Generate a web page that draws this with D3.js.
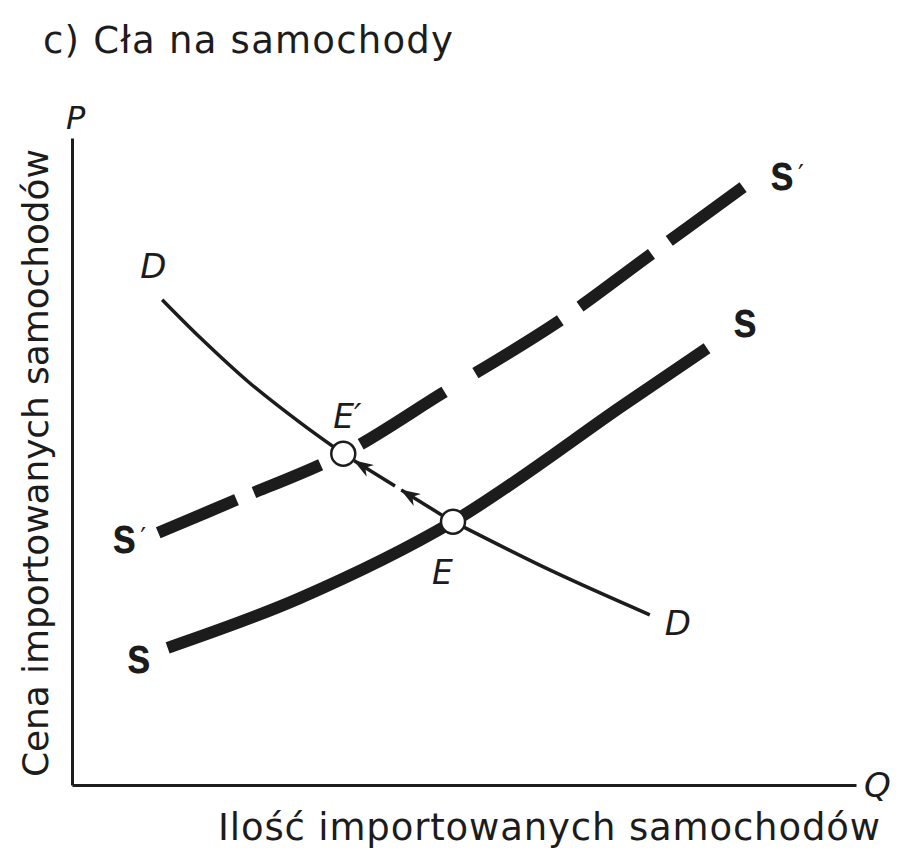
<!DOCTYPE html>
<html>
<head>
<meta charset="utf-8">
<script src="https://cdn.jsdelivr.net/npm/d3@7"></script>
<style>
  body { margin: 0; background: #fff; }
  svg { display: block; }
  .lbl { font-family: "DejaVu Sans", sans-serif; fill: #1c1c1c; }
  .ital { font-style: italic; }
  .curveLbl { font-family: "Liberation Sans", sans-serif; font-weight: bold; fill: #1c1c1c; }
</style>
</head>
<body>
<div id="chart"></div>
<script>
// curves, as [Q, P] on a 0..10 scale
var demand = [[1.15, 7.50], [1.63, 6.92], [2.27, 6.21], [2.91, 5.60], [3.46, 5.12], [4.86, 4.07], [6.10, 3.32], [7.37, 2.63]];
var supply = [[1.22, 2.12], [2.91, 2.89], [4.86, 4.07], [7.03, 5.87], [8.10, 6.75]];
var supplyTariff = [[1.10, 3.90], [2.08, 4.40], [3.46, 5.12], [4.73, 6.06], [6.20, 7.16], [7.37, 8.19], [8.56, 9.24]];

// equilibria
var eqNames = ["E′", "E"];
var eqPoints = [[3.46, 5.12], [4.86, 4.07]];

// the move along D from E to E'
var moveArrows = [
    [[4.72, 4.17], [4.20, 4.56]],
    [[4.12, 4.62], [3.60, 5.01]]
];

var title = "c) Cła na samochody";
var yTitle = "Cena importowanych samochodów";
var xTitle = "Ilość importowanych samochodów";

var width = 901, height = 866;

var svg = d3.select("#chart").append("svg")
    .attr("width", width)
    .attr("height", height);

var x = d3.scaleLinear().domain([0, 10]).range([72, 856]);
var y = d3.scaleLinear().domain([0, 10]).range([785, 138]);

var ink = "#1c1c1c";

// arrow head
svg.append("defs").append("marker")
    .attr("id", "head")
    .attr("viewBox", "0 0 20 14")
    .attr("refX", 19)
    .attr("refY", 7)
    .attr("markerWidth", 20)
    .attr("markerHeight", 14)
    .attr("markerUnits", "userSpaceOnUse")
    .attr("orient", "auto")
    .append("path")
    .attr("d", "M20,7 L0,0 L6,7 L0,14 Z")
    .attr("fill", ink);

// axes without ticks
svg.append("g")
    .attr("transform", "translate(0," + y(0) + ")")
    .call(d3.axisBottom(x).ticks(0).tickSizeOuter(0))
    .select(".domain").attr("stroke", ink).attr("stroke-width", 3);

svg.append("g")
    .attr("transform", "translate(" + x(0) + ",0)")
    .call(d3.axisLeft(y).ticks(0).tickSizeOuter(0))
    .select(".domain").attr("stroke", ink).attr("stroke-width", 3);

var line = d3.line()
    .x(function(d) { return x(d[0]); })
    .y(function(d) { return y(d[1]); })
    .curve(d3.curveCatmullRom.alpha(0.5));

// D, but not between E and E' (the arrows go there)
var dUpper = demand.filter(function(d) { return d[0] <= eqPoints[0][0]; });
var dLower = demand.filter(function(d) { return d[0] >= eqPoints[1][0]; });

[dUpper, dLower].forEach(function(part) {
    svg.append("path")
        .attr("d", line(part))
        .attr("fill", "none")
        .attr("stroke", ink)
        .attr("stroke-width", 3.5);
});

svg.append("path")
    .attr("d", line(supply))
    .attr("fill", "none")
    .attr("stroke", ink)
    .attr("stroke-width", 12);

svg.append("path")
    .attr("d", line(supplyTariff))
    .attr("fill", "none")
    .attr("stroke", ink)
    .attr("stroke-width", 12)
    .attr("stroke-dasharray", "85 19 72 45 99 36 100 24 89 22 94");

svg.selectAll(".move")
    .data(moveArrows)
    .enter().append("line")
    .attr("class", "move")
    .attr("x1", function(d) { return x(d[0][0]); })
    .attr("y1", function(d) { return y(d[0][1]); })
    .attr("x2", function(d) { return x(d[1][0]); })
    .attr("y2", function(d) { return y(d[1][1]); })
    .attr("stroke", ink)
    .attr("stroke-width", 3.5)
    .attr("marker-end", "url(#head)");

svg.selectAll(".eq")
    .data(eqPoints)
    .enter().append("circle")
    .attr("class", "eq")
    .attr("cx", function(d) { return x(d[0]); })
    .attr("cy", function(d) { return y(d[1]); })
    .attr("r", 12)
    .attr("fill", "#fff")
    .attr("stroke", ink)
    .attr("stroke-width", 2.5);

// texts
svg.append("text").attr("class", "lbl")
    .attr("x", 43).attr("y", 53)
    .attr("font-size", 37)
    .attr("textLength", 410).attr("lengthAdjust", "spacing")
    .text(title);

svg.append("text").attr("class", "lbl")
    .attr("x", 48).attr("y", 777)
    .attr("transform", "rotate(-90,48,777)")
    .attr("font-size", 36)
    .attr("textLength", 628).attr("lengthAdjust", "spacing")
    .text(yTitle);

svg.append("text").attr("class", "lbl")
    .attr("x", 218).attr("y", 840)
    .attr("font-size", 37)
    .attr("textLength", 662).attr("lengthAdjust", "spacing")
    .text(xTitle);

svg.append("text").attr("class", "lbl ital")
    .attr("x", x(0) - 6).attr("y", y(10) - 9)
    .attr("font-size", 32)
    .text("P");

svg.append("text").attr("class", "lbl ital")
    .attr("x", x(10) + 8).attr("y", y(0) + 12)
    .attr("font-size", 34)
    .text("Q");

// curve names
function dLabel(px, py) {
    svg.append("text").attr("class", "lbl ital")
        .attr("x", px).attr("y", py)
        .attr("font-size", 34)
        .text("D");
}
dLabel(x(demand[0][0]) - 22, y(demand[0][1]) - 22);
dLabel(x(demand[demand.length - 1][0]) + 15, y(demand[demand.length - 1][1]) + 20);

function sLabel(px, py, prime) {
    svg.append("text").attr("class", "curveLbl")
        .attr("x", px).attr("y", py)
        .attr("font-size", 52)
        .attr("textLength", 24).attr("lengthAdjust", "spacingAndGlyphs")
        .text("s");
    if (prime) {
        svg.append("text").attr("class", "lbl")
            .attr("x", px + 28).attr("y", py - 6)
            .attr("font-size", 26)
            .text("′");
    }
}
sLabel(x(supply[0][0]) - 41, y(supply[0][1]) + 25, false);
sLabel(x(supply[supply.length - 1][0]) + 26, y(supply[supply.length - 1][1]) - 11, false);
sLabel(x(supplyTariff[0][0]) - 46, y(supplyTariff[0][1]) + 20, true);
sLabel(x(supplyTariff[supplyTariff.length - 1][0]) + 27, y(supplyTariff[supplyTariff.length - 1][1]) + 3, true);

svg.append("text").attr("class", "lbl ital")
    .attr("x", x(eqPoints[0][0]) - 10).attr("y", y(eqPoints[0][1]) - 26)
    .attr("font-size", 33)
    .text(eqNames[0]);

svg.append("text").attr("class", "lbl ital")
    .attr("x", x(eqPoints[1][0]) - 21).attr("y", y(eqPoints[1][1]) + 62)
    .attr("font-size", 33)
    .text(eqNames[1]);
</script>
</body>
</html>
